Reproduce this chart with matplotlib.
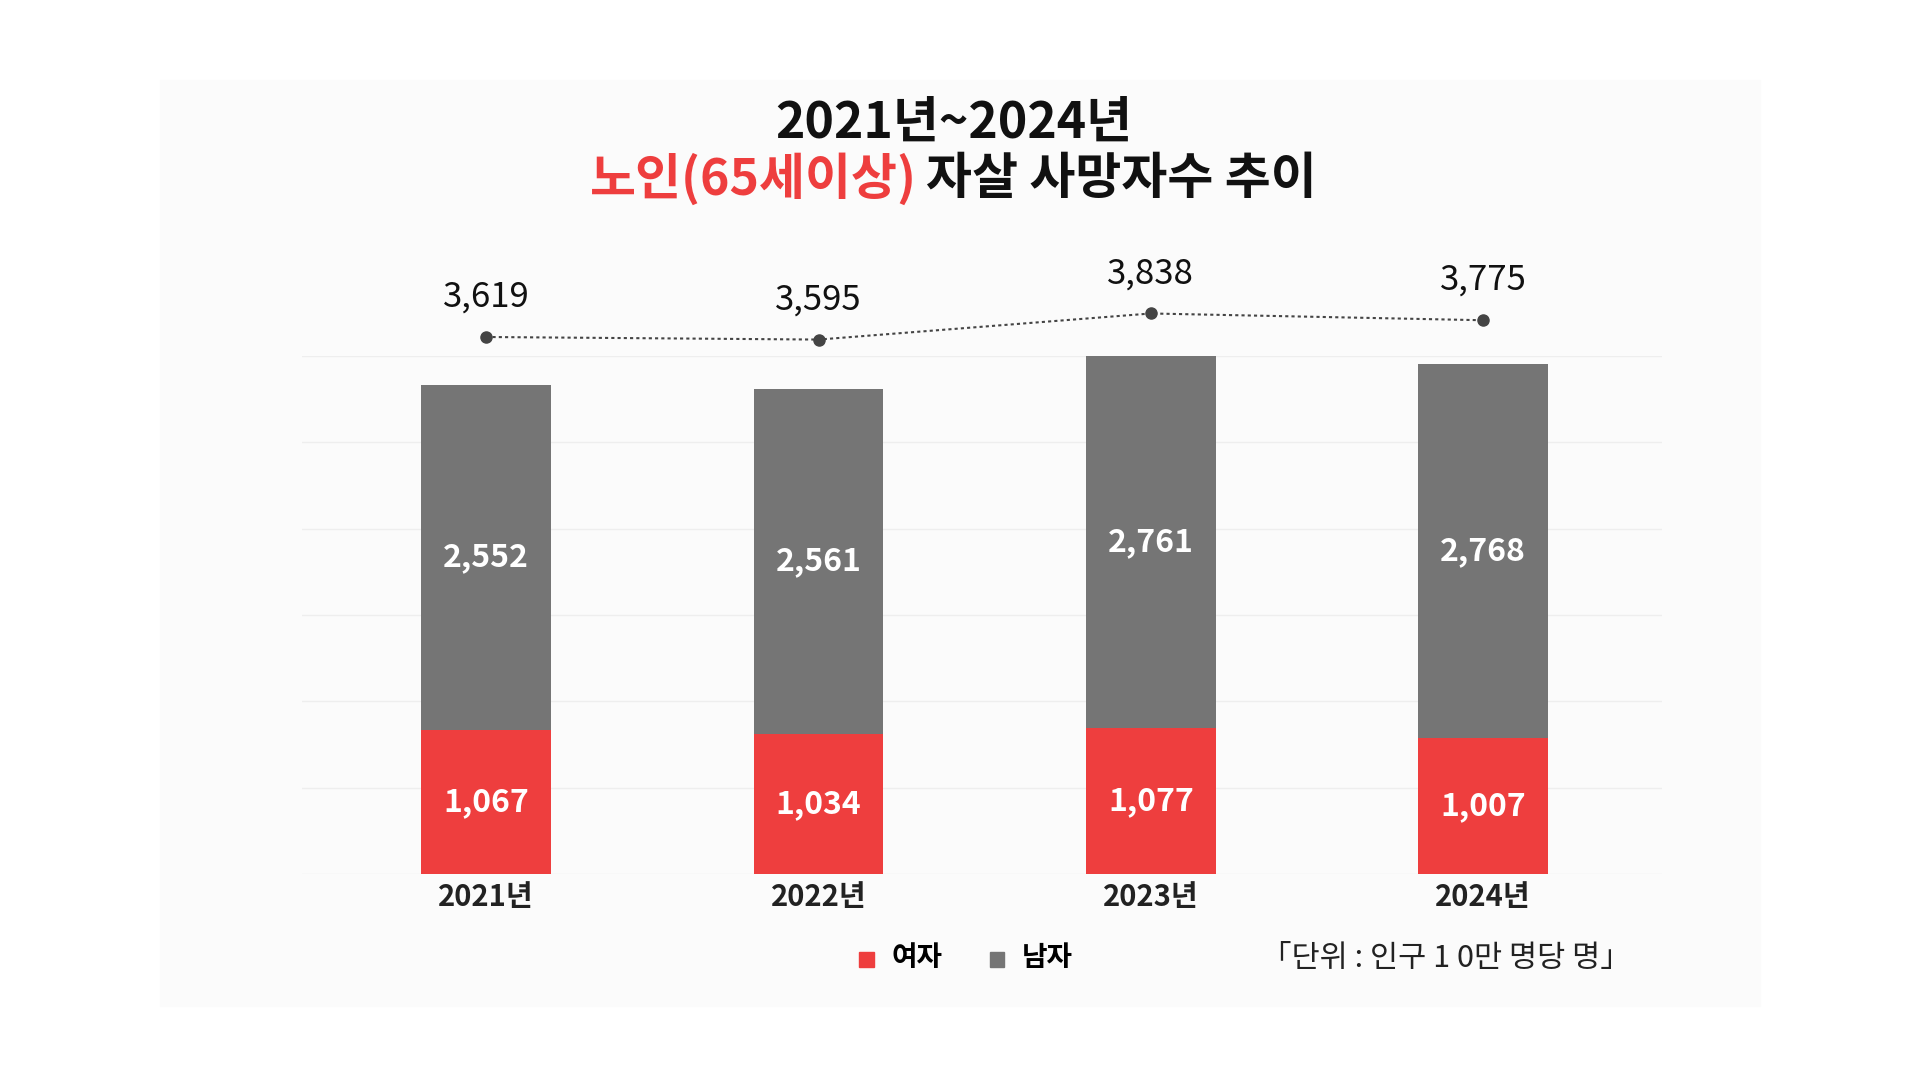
import matplotlib
matplotlib.use("Agg")
import matplotlib.pyplot as plt
from matplotlib.patches import Rectangle

plt.rcParams['font.family'] = ['Noto Sans CJK KR', 'DejaVu Sans']

years = ['2021년', '2022년', '2023년', '2024년']
female = [1067, 1034, 1077, 1007]
male = [2552, 2561, 2761, 2768]
total = [3619, 3595, 3838, 3775]

RED = '#ee3e3e'
GREY = '#757575'

fig = plt.figure(figsize=(19.2, 10.8), dpi=100)
fig.patches.append(Rectangle((130/1560, 1-820/880), 1300/1560, 755/880,
                             transform=fig.transFigure, color='#fbfbfb', zorder=-5))

def fy(px):
    return 1 - px / 880

ax = fig.add_axes([245/1560, fy(712), 1105/1560, fy(290) - fy(712)])
ax.patch.set_alpha(0)
x = list(range(len(years)))
ax.bar(x, female, width=0.39, color=RED, zorder=3)
ax.bar(x, male, width=0.39, bottom=female, color=GREY, zorder=3)
ax.set_xlim(-0.556, 3.537)
ax.set_ylim(0, 3838)
for g in [i * 3838 / 6 for i in range(7)]:
    ax.axhline(g, color='#eeeeee', lw=1, zorder=1)
for s in ax.spines.values():
    s.set_visible(False)
ax.set_yticks([])
ax.set_xticks(x)
ax.set_xticklabels(years, fontsize=21, fontweight='bold', color='#222222')
ax.tick_params(axis='x', length=0, pad=6)
for i in x:
    ax.text(i, female[i] / 2, f'{female[i]:,}', ha='center', va='center',
            color='white', fontsize=23, fontweight='bold', zorder=4)
    ax.text(i, female[i] + male[i] / 2, f'{male[i]:,}', ha='center', va='center',
            color='white', fontsize=23, fontweight='bold', zorder=4)

lax = fig.add_axes([245/1560, fy(285), 1105/1560, fy(250) - fy(285)])
lax.patch.set_alpha(0)
lax.plot(x, total, ls=(0, (1.5, 1.5)), color='#444444', lw=1.5, marker='o', ms=8)
lax.set_xlim(-0.556, 3.537)
lax.set_ylim(3500, 3900)
lax.axis('off')
for i in x:
    lax.annotate(f'{total[i]:,}', (i, total[i]), xytext=(0, 16), textcoords='offset points',
                 ha='center', va='bottom', fontsize=25, color='#111111')

fig.text(775/1560, fy(100), '2021년~2024년', ha='center', va='center',
         fontsize=36, fontweight='heavy', color='#111111')
fig.text(745/1560, fy(146), '노인(65세이상)', ha='right', va='center',
         fontsize=36, fontweight='heavy', color=RED)
fig.text(752/1560, fy(146), '자살 사망자수 추이', ha='left', va='center',
         fontsize=36, fontweight='heavy', color='#111111')

# legend
fig.patches.append(Rectangle((698/1560, fy(788)), 12/1560, 12/880,
                             transform=fig.transFigure, color=RED))
fig.text(724/1560, fy(781), '여자', ha='left', va='center', fontsize=20, fontweight='bold')
fig.patches.append(Rectangle((804/1560, fy(788)), 12/1560, 12/880,
                             transform=fig.transFigure, color=GREY))
fig.text(830/1560, fy(781), '남자', ha='left', va='center', fontsize=20, fontweight='bold')
fig.text(1325/1560, fy(781), '「단위 : 인구 1 0만 명당 명」', ha='right', va='center',
         fontsize=22, color='#222222')

fig.savefig('out.png', dpi=100, facecolor='white')
